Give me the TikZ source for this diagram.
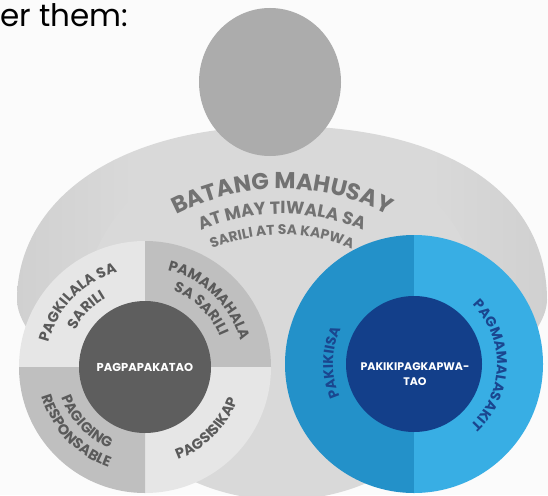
\documentclass[tikz,border=0pt]{standalone}
\usepackage{fontspec}
\setmainfont{Poppins}
\usetikzlibrary{decorations.text}
\definecolor{bgc}{HTML}{FBFBFB}
\definecolor{headc}{HTML}{ACACAC}
\definecolor{bodyD}{HTML}{BBBBBB}
\definecolor{bodyM}{HTML}{C8C8C8}
\definecolor{bodyL}{HTML}{D9D9D9}
\definecolor{qlight}{HTML}{E6E6E6}
\definecolor{qdark}{HTML}{BFBFBF}
\definecolor{coreg}{HTML}{5E5E5E}
\definecolor{ringtxt}{HTML}{5A5A5A}
\definecolor{arctxt}{HTML}{727272}
\definecolor{blueL}{HTML}{2391C9}
\definecolor{blueR}{HTML}{38AEE4}
\definecolor{blueCore}{HTML}{133F8A}
\definecolor{bluetxt}{HTML}{1A468F}
\pgfdeclarehorizontalshading{bodyshade}{100bp}{color(0bp)=(bodyD); color(15bp)=(bodyM); color(36bp)=(bodyL); color(64bp)=(bodyL); color(85bp)=(bodyM); color(100bp)=(bodyD)}
% text on an arc, letter tops outward (clockwise on the page)
\newcommand\OutArc[5]{\path[decorate,decoration={text along path,text align=center,text={|#4|#5}}] (#1) ++({-(#3)-60}:#2) arc[start angle={-(#3)-60},end angle={-(#3)+60},radius=#2];}
% text on an arc, letter tops inward (counter-clockwise on the page)
\newcommand\InArc[5]{\path[decorate,decoration={text along path,text align=center,text={|#4|#5}}] (#1) ++({-(#3)+60}:#2) arc[start angle={-(#3)+60},end angle={-(#3)-60},radius=#2];}
\newcommand\RingFmt{\fontsize{14.5}{14.5}\selectfont\bfseries\color{ringtxt}}
\newcommand\BlueFmt{\fontsize{14}{14}\selectfont\bfseries\color{bluetxt}}
\begin{document}
\begin{tikzpicture}[x=1pt,y=-1pt,
  toptext/.style={font=\fontsize{31}{31}\selectfont, text=black, inner sep=0pt},
  coretext/.style={font=\bfseries\fontsize{11.5}{15}\selectfont, text=white, align=center, inner sep=0pt}]
\useasboundingbox (0,0) rectangle (548,495);
\fill[bgc] (0,0) rectangle (548,495);
\coordinate (M) at (282,418);
\coordinate (L) at (145,367);
\coordinate (B) at (414,364);
% heading fragment
\node[toptext, anchor=base west] (head-text) at (0,27) {er them:};
% body
\path[shading=bodyshade] (17,300) .. controls (17,205) and (110,126) .. (282,126)
  .. controls (450,126) and (547,195) .. (547,300)
  .. controls (547,350) and (420,450) .. (282,450)
  .. controls (144,450) and (17,350) .. (17,300) -- cycle;
\fill[bodyL] (282,318) ellipse[x radius=200, y radius=182];
% head
\fill[headc] (270,82) ellipse[x radius=71, y radius=74];
% arc texts
\OutArc{M}{229}{90}{\fontsize{23}{23}\selectfont\bfseries\color{arctxt}}{BATANG MAHUSAY}
\OutArc{M}{204}{90}{\fontsize{17.5}{17.5}\selectfont\bfseries\color{arctxt}}{AT MAY TIWALA SA}
\OutArc{M}{183}{90}{\fontsize{14}{14}\selectfont\bfseries\color{arctxt}}{SARILI AT SA KAPWA}
% left ring
\fill[qlight] (L) -- ++(-126,0) arc[start angle=180,end angle=270,radius=126] -- cycle;
\fill[qdark]  (L) -- ++(0,-126) arc[start angle=270,end angle=360,radius=126] -- cycle;
\fill[qlight] (L) -- ++(126,0) arc[start angle=0,end angle=90,radius=126] -- cycle;
\fill[qdark]  (L) -- ++(0,126) arc[start angle=90,end angle=180,radius=126] -- cycle;
\fill[coreg] (L) circle[radius=66];
\node[coretext] (core-left) at (L) {PAGPAPAKATAO};
\OutArc{L}{99}{136}{\RingFmt}{PAGKILALA SA}
\OutArc{L}{79}{136}{\RingFmt}{SARILI}
\OutArc{L}{99}{46}{\RingFmt}{PAMAMAHALA}
\OutArc{L}{81}{46}{\RingFmt}{SA SARILI}
\InArc{L}{89}{223}{\RingFmt}{PAGIGING}
\InArc{L}{107}{223}{\RingFmt}{RESPONSABLE}
\InArc{L}{98}{315}{\RingFmt}{PAGSISIKAP}
% right ring
\fill[blueL] (B) -- ++(0,129) arc[start angle=90,end angle=270,radius=129] -- cycle;
\fill[blueR] (B) -- ++(0,-129) arc[start angle=-90,end angle=90,radius=129] -- cycle;
\fill[blueCore] (B) circle[radius=68];
\node[coretext, font=\bfseries\fontsize{11}{15}\selectfont] (core-right) at (415,374) {PAKIKIPAGKAPWA-\\TAO};
\OutArc{B}{81}{179}{\BlueFmt}{PAKIKIISA}
\OutArc{B}{83}{-1}{\BlueFmt}{PAGMAMALASAKIT}
\end{tikzpicture}
\end{document}
